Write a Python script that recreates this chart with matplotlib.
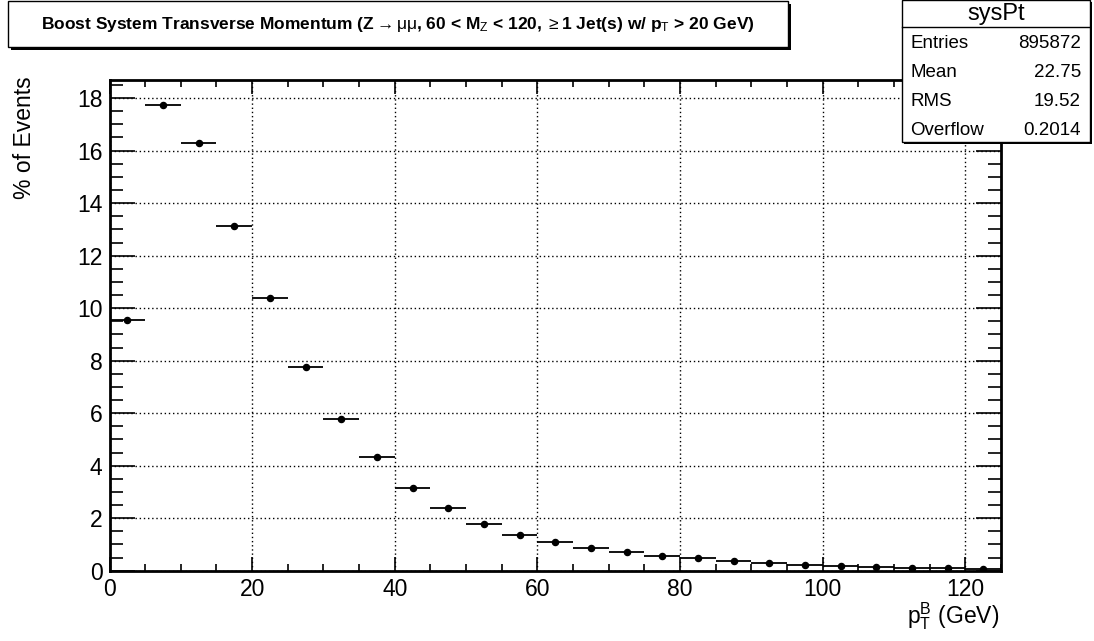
import matplotlib
matplotlib.use("Agg")
import matplotlib.pyplot as plt
from matplotlib.patches import Rectangle
from matplotlib.ticker import MultipleLocator
import numpy as np

plt.rcParams['font.family'] = ['Liberation Sans', 'DejaVu Sans']
plt.rcParams['mathtext.fontset'] = 'custom'
plt.rcParams['mathtext.rm'] = 'Liberation Sans'
plt.rcParams['mathtext.it'] = 'Liberation Sans'
plt.rcParams['mathtext.bf'] = 'Liberation Sans:bold'

# histogram contents (% of events), 5 GeV bins from 0 to 125
bin_edges = np.arange(0, 126, 5)
pct_events = [9.55, 17.72, 16.30, 13.13, 10.38, 7.77, 5.79, 4.32, 3.16, 2.40,
              1.79, 1.37, 1.08, 0.86, 0.70, 0.57, 0.47, 0.38, 0.28, 0.23,
              0.18, 0.15, 0.12, 0.10, 0.08]

stat_names = ["Entries", "Mean", "RMS", "Overflow"]
stat_values = ["895872", "22.75", "19.52", "0.2014"]
hist_name = "sysPt"

W, H = 1094, 641
fig = plt.figure(figsize=(W / 100, H / 100), dpi=100)


def fx(px):
    return px / W


def fy(py):
    return 1 - py / H


ax = fig.add_axes([fx(109.5), fy(570.7), fx(1001) - fx(109.5), fy(80) - fy(570.7)])

centers = 0.5 * (bin_edges[:-1] + bin_edges[1:])
half = 0.5 * np.diff(bin_edges)
ax.errorbar(centers, pct_events, xerr=half, fmt='o', color='black',
            ms=4.4, elinewidth=1.3, capsize=0)

ax.set_xlim(0, 125)
ax.set_ylim(0, 18.69)
ax.xaxis.set_major_locator(MultipleLocator(20))
ax.xaxis.set_minor_locator(MultipleLocator(5))
ax.yaxis.set_major_locator(MultipleLocator(2))
ax.yaxis.set_minor_locator(MultipleLocator(0.5))
ax.grid(True, which='major', linestyle=(0, (1, 2)), color='black', linewidth=1.0)
ax.set_axisbelow(True)

for s in ax.spines.values():
    s.set_linewidth(2.0)
ax.tick_params(axis='both', which='both', direction='in', top=True, right=True,
               labelsize=16.5, width=1.2, pad=5)
ax.tick_params(axis='x', which='major', length=10)
ax.tick_params(axis='x', which='minor', length=5)
ax.tick_params(axis='y', which='major', length=18)
ax.tick_params(axis='y', which='minor', length=9.5)

fig.text(fx(25), fy(76), "% of Events", rotation=90, ha='center', va='top', fontsize=16.5)
fig.text(fx(999), fy(616), r"p$_{T}^{B}$ (GeV)", ha='right', va='center', fontsize=16.5)

# title box with shadow
tb_l, tb_t, tb_r, tb_b = 8, 1, 788, 47
fig.add_artist(Rectangle((fx(tb_l + 3), fy(tb_b + 3)), fx(tb_r) - fx(tb_l), fy(tb_t) - fy(tb_b),
                         transform=fig.transFigure, facecolor='black', edgecolor='none'))
fig.add_artist(Rectangle((fx(tb_l), fy(tb_b)), fx(tb_r) - fx(tb_l), fy(tb_t) - fy(tb_b),
                         transform=fig.transFigure, facecolor='white', edgecolor='black', lw=1))
fig.text(fx((tb_l + tb_r) / 2), fy(25),
         r"Boost System Transverse Momentum (Z$\rightarrow\mu\mu$, 60 < M$_{Z}$ < 120, $\geq$1 Jet(s) w/ p$_{T}$ > 20 GeV)",
         ha='center', va='center', fontsize=12.5, fontweight='bold')

# stats box with shadow
sb_l, sb_t, sb_r, sb_b = 902, 0, 1090, 142
fig.add_artist(Rectangle((fx(sb_l + 2), fy(sb_b + 2)), fx(sb_r) - fx(sb_l), fy(sb_t) - fy(sb_b),
                         transform=fig.transFigure, facecolor='black', edgecolor='none'))
fig.add_artist(Rectangle((fx(sb_l), fy(sb_b)), fx(sb_r) - fx(sb_l), fy(sb_t) - fy(sb_b),
                         transform=fig.transFigure, facecolor='white', edgecolor='black', lw=1))
fig.add_artist(plt.Line2D([fx(sb_l), fx(sb_r)], [fy(27), fy(27)], transform=fig.transFigure,
                          color='black', lw=1))
fig.text(fx((sb_l + sb_r) / 2), fy(14), hist_name, ha='center', va='center', fontsize=17)
for i, (nm, val) in enumerate(zip(stat_names, stat_values)):
    yy = fy(43 + i * 29.3)
    fig.text(fx(910), yy, nm, ha='left', va='center', fontsize=13.5)
    fig.text(fx(1081), yy, val, ha='right', va='center', fontsize=13.5)

fig.savefig("out.png", dpi=100)
